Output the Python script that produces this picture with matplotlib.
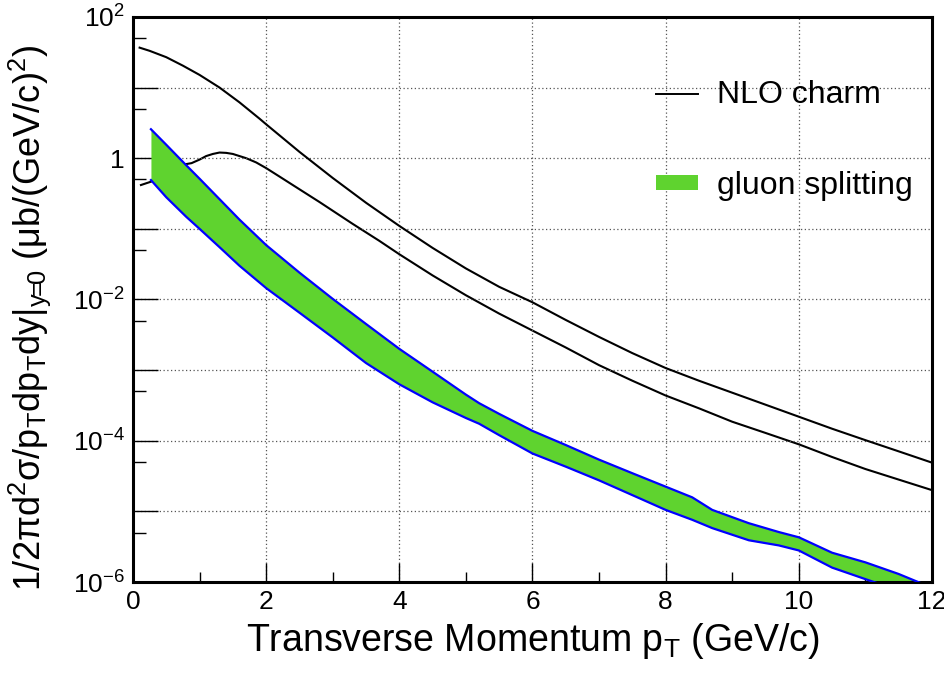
import matplotlib
matplotlib.use('Agg')
import matplotlib.pyplot as plt
from matplotlib.lines import Line2D
from matplotlib.patches import Patch
from matplotlib.ticker import FixedLocator, NullFormatter

plt.rcParams['font.family'] = ['Liberation Sans', 'DejaVu Sans']
plt.rcParams['mathtext.fontset'] = 'custom'
plt.rcParams['mathtext.rm'] = 'Liberation Sans'
plt.rcParams['mathtext.it'] = 'Liberation Sans'
plt.rcParams['mathtext.default'] = 'rm'

# NLO charm, upper curve
nlo_hi_x = [0.1, 0.25, 0.5, 0.75, 1.0, 1.3, 1.6, 1.9, 2.0, 2.5, 3.0, 3.5, 4.0, 4.5,
            5.0, 5.5, 6.0, 6.5, 7.0, 7.5, 8.0, 8.5, 9.0, 9.5, 10.0, 10.5, 11.0,
            11.5, 12.0]
nlo_hi_y = [36.7, 33.1, 26.9, 20.4, 15.1, 10.0, 6.17, 3.63, 3.02, 1.23, 0.525, 0.234,
            0.110, 0.0537, 0.0275, 0.0151, 0.00912, 0.00513, 0.00295, 0.00174,
            0.00107, 0.000708, 0.000479, 0.000324, 0.000219, 0.000148, 0.000102,
            0.0000708, 0.000049]

# NLO charm, lower curve
nlo_lo_x = [0.12, 0.28, 0.5, 0.7, 0.88, 1.0, 1.1, 1.2, 1.3, 1.4, 1.5, 1.7, 1.85,
            2.0, 2.2, 2.4, 2.8, 3.3, 3.7, 4.0, 4.5, 5.0, 5.5, 6.0, 6.5, 7.0, 7.5,
            8.0, 8.5, 9.0, 9.5, 10.0, 10.5, 11.0, 11.5, 12.0]
nlo_lo_y = [0.417, 0.468, 0.631, 0.794, 0.851, 0.955, 1.072, 1.148, 1.202, 1.189,
            1.148, 1.0, 0.871, 0.724, 0.550, 0.417, 0.240, 0.1175, 0.0676, 0.0437,
            0.0219, 0.01148, 0.00631, 0.00363, 0.00209, 0.001175, 0.000708,
            0.000437, 0.000288, 0.000186, 0.000129, 0.0000891, 0.0000589,
            0.0000398, 0.0000282, 0.00002]

# gluon splitting band
gs_x = [0.27, 0.5, 0.8, 1.0, 1.3, 1.6, 2.0, 2.5, 3.0, 3.5, 4.0, 4.5, 5.0, 5.2, 5.5,
        6.0, 6.5, 7.0, 7.5, 8.0, 8.4, 8.7, 9.25, 9.7, 10.0, 10.5, 11.0, 11.5, 12.0]
gs_top = [2.57, 1.55, 0.794, 0.513, 0.263, 0.135, 0.0589, 0.024, 0.0102, 0.0045,
          0.0020, 0.00095, 0.00045, 0.00034, 0.00024, 0.000138, 0.000087, 0.000054,
          0.0000347, 0.0000224, 0.0000158, 0.0000105, 0.0000068, 0.0000051,
          0.0000043, 0.0000026, 0.0000019, 0.0000013, 0.00000083]
gs_bot = [0.49, 0.28, 0.148, 0.10, 0.055, 0.030, 0.0145, 0.0065, 0.0029, 0.00126,
          0.00063, 0.00035, 0.00021, 0.000174, 0.00012, 0.000066, 0.000043,
          0.0000275, 0.000017, 0.0000105, 0.0000076, 0.0000058, 0.0000039,
          0.0000033, 0.0000028, 0.0000016, 0.0000011, 0.00000076, 0.0000005]

ytick_vals = [1e-6, 1e-4, 1e-2, 1, 1e2]
ytick_labels = [r'$10^{-6}$', r'$10^{-4}$', r'$10^{-2}$', '1', r'$10^{2}$']
green = '#5fd32f'

fig = plt.figure(figsize=(9.45, 6.76), dpi=100)
ax = fig.add_axes([0.1407, 0.139, 0.8455, 0.836])

ax.fill_between(gs_x, gs_bot, gs_top, color=green, lw=0, zorder=2)
ax.plot(gs_x, gs_top, color='blue', lw=1.6, zorder=3)
ax.plot(gs_x, gs_bot, color='blue', lw=1.6, zorder=3)
ax.plot(nlo_hi_x, nlo_hi_y, color='black', lw=1.5, zorder=4)
ax.plot(nlo_lo_x, nlo_lo_y, color='black', lw=1.5, zorder=1)

ax.set_yscale('log')
ax.set_xlim(0, 12)
ax.set_ylim(1e-6, 1e2)

ax.set_xticks(range(0, 13, 2))
ax.xaxis.set_minor_locator(FixedLocator(range(1, 12, 2)))
ax.yaxis.set_major_locator(FixedLocator([10.0 ** k for k in range(-6, 3)]))
ax.yaxis.set_minor_locator(FixedLocator([5 * 10.0 ** k for k in range(-6, 2)]))
ax.yaxis.set_minor_formatter(NullFormatter())
ax.set_yticklabels(['' if 10.0 ** k not in ytick_vals else ytick_labels[ytick_vals.index(10.0 ** k)]
                    for k in range(-6, 3)])

ax.tick_params(axis='both', which='both', direction='in', color='black',
               labelsize=19, top=False, right=False)
ax.tick_params(axis='y', which='major', length=18, width=1, pad=6)
ax.tick_params(axis='y', which='minor', length=9, width=1)
ax.tick_params(axis='x', which='major', length=14, width=1, pad=6)
ax.tick_params(axis='x', which='minor', length=7, width=1)

ax.grid(True, which='major', linestyle=(0, (1, 2)), color='#555555', lw=0.9)
for s in ax.spines.values():
    s.set_linewidth(2.2)

ax.set_xlabel(r'Transverse Momentum p$_T$ (GeV/c)', fontsize=27, labelpad=5)
ax.set_ylabel(r'1/2$\pi$d$^{2}\sigma$/p$_{T}$dp$_{T}$dy|$_{y\!\!=\!\!0}$ (μb/(GeV/c)$^{2}$)',
              fontsize=26)
ax.yaxis.set_label_coords(-0.100, 0.468)

handles = [Line2D([], [], color='black', lw=1.4),
           Patch(facecolor=green, edgecolor='none')]
ax.legend(handles, ['NLO charm', 'gluon splitting'], loc='upper left',
          bbox_to_anchor=(0.655, 0.888), frameon=False, fontsize=23,
          handlelength=1.3, handleheight=0.33, handletextpad=0.6,
          labelspacing=1.9, borderpad=0, borderaxespad=0)

fig.savefig('out.png', dpi=100)
